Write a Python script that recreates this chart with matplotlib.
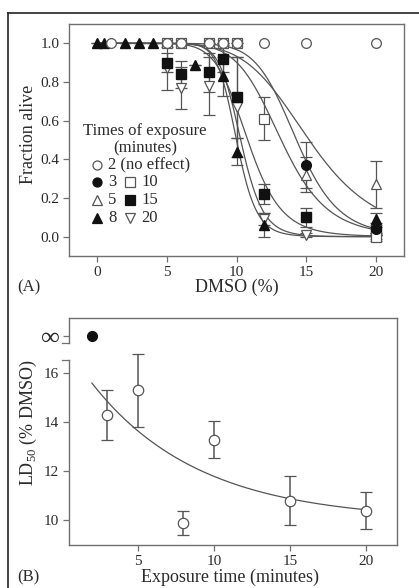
import numpy as np
import matplotlib
matplotlib.use("Agg")
import matplotlib.pyplot as plt
from matplotlib.lines import Line2D

plt.rcParams["font.family"] = ["Liberation Serif", "DejaVu Serif"]
plt.rcParams["mathtext.fontset"] = "custom"
plt.rcParams["mathtext.rm"] = "Liberation Serif"

TXT = "#2b2b2b"
FRAME = "#707070"
LINE = "#555555"
MK = "#111111"

# ---- panel A data: fraction alive vs DMSO (%) for each exposure time ----
x2 = [1, 5, 6, 8, 9, 10, 12, 15, 20]
y2 = [1, 1, 1, 1, 1, 1, 1, 1, 1]

x3 = [15, 20]
y3 = [0.37, 0.04]
e3 = [0.12, 0.03]

x5 = [15, 20]
y5 = [0.32, 0.27]
e5 = [0.09, 0.12]

x8 = [0, 0.5, 2, 3, 4, 7, 9, 10, 12, 20]
y8 = [1, 1, 1, 1, 1, 0.89, 0.83, 0.44, 0.06, 0.09]
e8 = [0, 0, 0, 0, 0, 0, 0.10, 0.07, 0.06, 0.03]

x10 = [5, 6, 8, 9, 10, 12, 20]
y10 = [1, 1, 1, 1, 1, 0.61, 0.0]
e10 = [0, 0, 0, 0, 0, 0.11, 0.02]

x15 = [5, 6, 8, 9, 10, 12, 15, 20]
y15 = [0.90, 0.84, 0.85, 0.92, 0.72, 0.22, 0.10, 0.03]
e15 = [0.05, 0.07, 0.10, 0.07, 0.21, 0.05, 0.05, 0.02]

x20 = [5, 6, 8, 10, 12, 15, 20]
y20 = [0.87, 0.77, 0.78, 0.67, 0.09, 0.01, 0.0]
e20 = [0.11, 0.11, 0.15, 0.26, 0.03, 0.01, 0.01]

# fitted Hill curves (LD50, slope) for each exposure time
fit_times = [3, 5, 8, 10, 15, 20]
fit_ld50 = [14.3, 15.2, 10.0, 13.2, 10.8, 10.3]
fit_n = [9.5, 6.3, 14.0, 8.0, 9.0, 13.0]

# ---- panel B data: LD50 vs exposure time ----
tB = [3, 5, 8, 10, 15, 20]
ldB = [14.3, 15.3, 9.9, 13.3, 10.8, 10.4]
ldB_lo = [13.3, 13.8, 9.4, 12.55, 9.8, 9.65]
ldB_hi = [15.3, 16.8, 10.4, 14.05, 11.8, 11.15]
t_inf = [2]
INF_Y = 17.5  # position of the infinity tick
# exponential decay fit: y = a + b*exp(-k t)
fit_a, fit_b, fit_k = 10.0, 7.44, 0.142

fig = plt.figure(figsize=(4.19, 5.88), dpi=100)
axA = fig.add_axes([0.1647, 0.5646, 0.7995, 0.3946])
axB = fig.add_axes([0.1647, 0.0731, 0.7828, 0.386])

# outer frame (left and top only, rest is cropped)
fig.add_artist(Line2D([8 / 419, 8 / 419], [0, 1 - 13 / 588], color="#222222", lw=1.2))
fig.add_artist(Line2D([8 / 419, 1], [1 - 13 / 588, 1 - 13 / 588], color="#222222", lw=1.2))

for ax in (axA, axB):
    for s in ax.spines.values():
        s.set_color(FRAME)
        s.set_linewidth(1.0)
    ax.tick_params(direction="out", length=4, width=0.9, color=FRAME,
                   labelsize=11, labelcolor=TXT, pad=3)

# curves
xs = np.linspace(0, 20, 300)
for ld, n in zip(fit_ld50, fit_n):
    axA.plot(xs, 1 / (1 + (xs / ld) ** n), color=LINE, lw=0.9, zorder=1)

ekw = dict(ecolor=LINE, elinewidth=0.9, capsize=4, capthick=0.9, ls="none", zorder=2)
msz = 7
axA.errorbar(x20, y20, yerr=e20, marker="v", ms=msz, mfc="white", mec=LINE, mew=0.9, **ekw)
axA.errorbar(x15, y15, yerr=e15, marker="s", ms=msz - 0.5, mfc=MK, mec=MK, **ekw)
axA.errorbar(x10, y10, yerr=e10, marker="s", ms=msz - 0.5, mfc="white", mec=LINE, mew=0.9, **ekw)
axA.errorbar(x8, y8, yerr=e8, marker="^", ms=msz, mfc=MK, mec=MK, **ekw)
axA.errorbar(x5, y5, yerr=e5, marker="^", ms=msz, mfc="white", mec=LINE, mew=0.9, **ekw)
axA.errorbar(x3, y3, yerr=e3, marker="o", ms=msz, mfc=MK, mec=MK, **ekw)
axA.plot(x2, y2, "o", ms=msz, mfc="white", mec=LINE, mew=0.9, ls="none", zorder=3)

axA.set_xlim(-2, 22)
axA.set_ylim(-0.1, 1.1)
axA.set_xticks([0, 5, 10, 15, 20])
axA.set_yticks([0.0, 0.2, 0.4, 0.6, 0.8, 1.0])
axA.set_yticklabels(["0.0", "0.2", "0.4", "0.6", "0.8", "1.0"])
axA.set_xlabel("DMSO (%)", fontsize=13, color=TXT, va="center")
axA.set_ylabel("Fraction alive", fontsize=13, color=TXT, va="center")
axA.xaxis.set_label_coords(0.5, -0.134)
axA.yaxis.set_label_coords(-0.122, 0.524)

# hand-made legend inside panel A
leg_size = 12
axA.text(0.227, 0.537, "Times of exposure", transform=axA.transAxes, ha="center",
         va="center", fontsize=leg_size, color=TXT)
axA.text(0.227, 0.466, "(minutes)", transform=axA.transAxes, ha="center",
         va="center", fontsize=leg_size, color=TXT)
leg_items = [
    (0.083, 0.392, "o", "white", "2 (no effect)"),
    (0.083, 0.320, "o", MK, "3"),
    (0.083, 0.241, "^", "white", "5"),
    (0.083, 0.164, "^", MK, "8"),
    (0.182, 0.320, "s", "white", "10"),
    (0.182, 0.241, "s", MK, "15"),
    (0.182, 0.164, "v", "white", "20"),
]
for lx, ly, m, fc, lab in leg_items:
    ec = LINE if fc == "white" else MK
    axA.plot([lx], [ly], marker=m, ms=6.5, mfc=fc, mec=ec, mew=0.9,
             transform=axA.transAxes, ls="none", clip_on=False)
    axA.text(lx + 0.034, ly, lab, transform=axA.transAxes, ha="left", va="center",
             fontsize=leg_size, color=TXT)

fig.text(17 / 419, 1 - 287 / 588, "(A)", fontsize=12, color=TXT, ha="left", va="center")

# ---- panel B ----
tt = np.linspace(2, 20, 200)
axB.plot(tt, fit_a + fit_b * np.exp(-fit_k * tt), color=LINE, lw=0.9, zorder=1)
lo = np.array(ldB) - np.array(ldB_lo)
hi = np.array(ldB_hi) - np.array(ldB)
axB.errorbar(tB, ldB, yerr=[lo, hi], marker="o", ms=msz + 0.5, mfc="white", mec=LINE,
             mew=0.9, ecolor=LINE, elinewidth=1.1, capsize=4, capthick=1.1, ls="none", zorder=3)
axB.plot(t_inf, [INF_Y] * len(t_inf), "o", ms=msz, mfc=MK, mec=MK, zorder=3)

axB.set_xlim(0.5, 22)
axB.set_ylim(9, 18.25)
axB.set_xticks([5, 10, 15, 20])
axB.set_yticks([10, 12, 14, 16, INF_Y])
axB.set_yticklabels(["10", "12", "14", "16", "\u221e"])
axB.get_yticklabels()[-1].set_fontsize(19)

# broken left spine
brk_lo, brk_hi = 16.55, 17.22
axB.spines["left"].set_bounds(9, brk_lo)
axB.plot([0.5, 0.5], [brk_hi, 18.25], color=FRAME, lw=1.0, clip_on=False, zorder=5)
axB.plot([0.5, 0.05], [brk_lo, brk_lo], color=FRAME, lw=0.9, clip_on=False)
axB.plot([0.5, 0.05], [brk_hi, brk_hi], color=FRAME, lw=0.9, clip_on=False)

axB.set_xlabel("Exposure time (minutes)", fontsize=13, color=TXT, va="center")
axB.set_ylabel("LD$_{50}$ (% DMSO)", fontsize=13, color=TXT, va="center")
axB.xaxis.set_label_coords(0.49, -0.141)
axB.yaxis.set_label_coords(-0.125, 0.54)
fig.text(17 / 419, 1 - 577 / 588, "(B)", fontsize=12, color=TXT, ha="left", va="center")

fig.savefig("out.png", dpi=100)
